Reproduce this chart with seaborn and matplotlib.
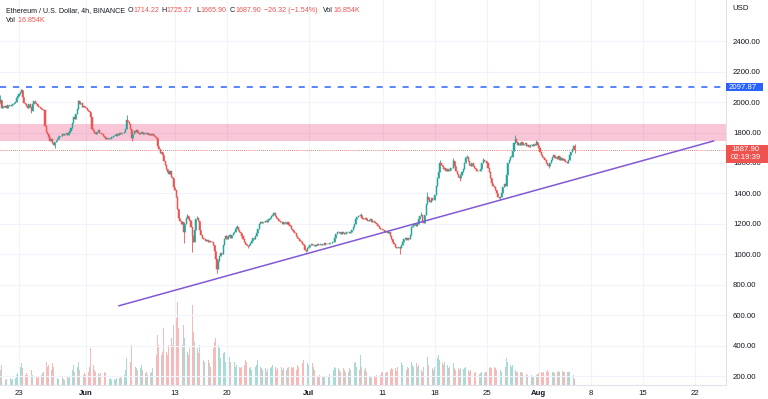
import numpy as np
import pandas as pd
import matplotlib
matplotlib.use("Agg")
import matplotlib.pyplot as plt
import matplotlib.dates as mdates
from matplotlib.patches import Rectangle
from matplotlib.transforms import blended_transform_factory
import seaborn as sns

# 4h closes, one row per day (first row starts 20 May 12:00)
closes = [
    [2010, 1960, 1975],
    [1970, 1975, 1962, 1980, 1972, 1976],
    [1980, 1986, 1992, 2002, 2028, 2040],
    [2052, 2066, 2078, 2035, 1996, 1985],
    [1976, 1962, 1990, 1968, 1942, 1985],
    [2005, 1994, 1984, 1975, 1966, 1960],
    [1955, 1946, 1950, 1840, 1802, 1790],
    [1770, 1742, 1760, 1732, 1718, 1740],
    [1746, 1760, 1770, 1776, 1780, 1790],
    [1784, 1790, 1796, 1782, 1800, 1810],
    [1830, 1862, 1900, 1890, 1922, 1952],
    [2008, 1985, 1995, 1964, 1976, 1968],
    [1960, 1950, 1940, 1934, 1900, 1822],   # Jun 1
    [1810, 1800, 1790, 1806, 1815, 1800],
    [1795, 1788, 1780, 1768, 1758, 1765],
    [1755, 1760, 1766, 1770, 1775, 1780],
    [1780, 1790, 1785, 1795, 1790, 1800],
    [1795, 1806, 1820, 1882, 1868, 1855],
    [1820, 1762, 1790, 1812, 1805, 1815],
    [1800, 1790, 1796, 1805, 1790, 1795],
    [1800, 1790, 1795, 1785, 1790, 1786],
    [1790, 1780, 1770, 1764, 1710, 1690],
    [1665, 1672, 1655, 1610, 1590, 1560],
    [1540, 1530, 1546, 1510, 1500, 1440],
    [1420, 1380, 1300, 1240, 1218, 1200],
    [1212, 1150, 1200, 1240, 1252, 1230],
    [1220, 1180, 1120, 1080, 1160, 1232],
    [1240, 1220, 1160, 1130, 1110, 1100],
    [1100, 1090, 1096, 1085, 1090, 1080],
    [1085, 1060, 1020, 970, 905, 960],
    [990, 1010, 1000, 1060, 1100, 1120],
    [1100, 1120, 1130, 1110, 1125, 1140],
    [1150, 1170, 1182, 1160, 1150, 1140],
    [1120, 1100, 1080, 1070, 1060, 1055],
    [1065, 1075, 1090, 1110, 1100, 1120],
    [1140, 1170, 1200, 1210, 1205, 1215],
    [1210, 1220, 1215, 1225, 1230, 1236],
    [1250, 1262, 1270, 1255, 1240, 1230],
    [1220, 1215, 1210, 1200, 1215, 1205],
    [1200, 1210, 1195, 1190, 1170, 1160],
    [1150, 1140, 1120, 1110, 1100, 1090],
    [1085, 1070, 1060, 1030, 1020, 1040],
    [1050, 1065, 1070, 1060, 1065, 1055],   # Jul 1
    [1060, 1070, 1065, 1060, 1068, 1062],
    [1065, 1075, 1070, 1068, 1072, 1078],
    [1075, 1080, 1085, 1110, 1135, 1145],
    [1150, 1140, 1135, 1145, 1140, 1135],
    [1140, 1145, 1150, 1140, 1148, 1160],
    [1180, 1200, 1230, 1245, 1255, 1250],
    [1262, 1240, 1235, 1230, 1240, 1225],
    [1220, 1225, 1230, 1215, 1220, 1210],
    [1205, 1200, 1190, 1175, 1170, 1165],
    [1160, 1150, 1155, 1145, 1140, 1150],
    [1120, 1100, 1080, 1070, 1050, 1045],
    [1040, 1050, 1045, 1060, 1080, 1100],
    [1105, 1095, 1110, 1100, 1130, 1180],
    [1190, 1195, 1200, 1190, 1200, 1230],
    [1255, 1260, 1210, 1205, 1260, 1330],
    [1380, 1360, 1345, 1370, 1355, 1360],
    [1390, 1450, 1500, 1540, 1600, 1590],
    [1580, 1560, 1570, 1550, 1560, 1545],
    [1555, 1565, 1570, 1610, 1580, 1550],
    [1530, 1510, 1500, 1520, 1540, 1560],
    [1600, 1630, 1640, 1610, 1590, 1580],
    [1600, 1580, 1570, 1560, 1545, 1550],
    [1545, 1560, 1600, 1620, 1610, 1615],
    [1600, 1570, 1540, 1500, 1470, 1450],
    [1440, 1420, 1400, 1380, 1370, 1380],
    [1400, 1440, 1460, 1450, 1520, 1600],
    [1620, 1640, 1640, 1680, 1730, 1760],
    [1740, 1720, 1730, 1715, 1735, 1720],
    [1725, 1730, 1710, 1720, 1705, 1715],
    [1720, 1710, 1725, 1715, 1740, 1720],
    [1700, 1670, 1650, 1640, 1630, 1620],   # Aug 1
    [1600, 1590, 1580, 1600, 1620, 1640],
    [1650, 1630, 1640, 1625, 1645, 1620],
    [1630, 1620, 1625, 1615, 1605, 1598],
    [1620, 1650, 1670, 1695, 1714.22, 1687.90],
]

# volume per 4h candle, thousands of ETH
volumes = [
    [45, 60, 35],
    [20, 15, 18, 12, 15, 20],
    [15, 18, 22, 20, 30, 35],
    [40, 55, 65, 50, 45, 30],
    [35, 30, 40, 35, 45, 30],
    [25, 30, 28, 22, 25, 20],
    [30, 35, 40, 80, 70, 55],
    [60, 50, 45, 65, 55, 40],
    [25, 20, 18, 22, 20, 25],
    [18, 15, 20, 25, 22, 28],
    [35, 45, 60, 40, 50, 55],
    [70, 45, 40, 35, 30, 35],
    [30, 35, 40, 55, 110, 90],
    [60, 45, 40, 50, 35, 30],
    [35, 30, 45, 40, 35, 30],
    [20, 18, 22, 15, 20, 18],
    [15, 20, 18, 22, 25, 20],
    [25, 30, 45, 80, 60, 45],
    [70, 120, 80, 60, 55, 50],
    [45, 40, 50, 60, 45, 40],
    [35, 40, 30, 45, 35, 40],
    [50, 55, 60, 90, 150, 120],
    [110, 90, 100, 170, 130, 100],
    [90, 120, 110, 140, 120, 180],
    [280, 200, 250, 170, 150, 130],
    [120, 180, 140, 110, 100, 90],
    [110, 150, 240, 160, 130, 100],
    [110, 95, 120, 100, 85, 75],
    [70, 60, 55, 75, 65, 55],
    [80, 110, 130, 140, 135, 120],
    [110, 80, 75, 95, 100, 70],
    [75, 60, 85, 70, 60, 55],
    [70, 55, 60, 75, 55, 50],
    [55, 70, 60, 75, 70, 55],
    [50, 55, 45, 65, 50, 55],
    [60, 75, 80, 55, 50, 45],
    [45, 50, 40, 48, 45, 50],
    [55, 60, 50, 55, 45, 50],
    [45, 50, 55, 45, 50, 40],
    [45, 50, 55, 60, 55, 50],
    [55, 50, 45, 60, 55, 50],
    [60, 65, 75, 150, 90, 65],
    [60, 55, 50, 65, 55, 45],
    [30, 28, 25, 30, 28, 25],
    [25, 28, 30, 25, 28, 32],
    [35, 40, 45, 55, 50, 45],
    [50, 45, 40, 55, 50, 45],
    [40, 45, 38, 50, 45, 40],
    [50, 65, 70, 55, 50, 45],
    [90, 55, 50, 45, 50, 40],
    [30, 25, 28, 22, 25, 28],
    [25, 30, 28, 35, 30, 38],
    [38, 45, 35, 40, 38, 45],
    [45, 50, 48, 45, 50, 42],
    [55, 60, 115, 70, 60, 55],
    [50, 45, 55, 50, 60, 70],
    [60, 55, 50, 65, 55, 60],
    [50, 45, 40, 55, 50, 70],
    [85, 60, 50, 45, 50, 45],
    [55, 70, 80, 90, 75, 65],
    [65, 60, 70, 55, 60, 50],
    [55, 50, 60, 65, 50, 45],
    [55, 50, 45, 50, 55, 48],
    [50, 55, 60, 45, 40, 45],
    [40, 38, 35, 40, 38, 35],
    [32, 35, 40, 38, 35, 40],
    [40, 45, 50, 55, 50, 45],
    [55, 50, 45, 48, 40, 45],
    [40, 50, 45, 55, 80, 70],
    [65, 60, 55, 60, 50, 45],
    [40, 38, 35, 40, 38, 35],
    [30, 28, 32, 30, 28, 32],
    [30, 28, 25, 28, 30, 32],
    [35, 40, 38, 35, 40, 38],
    [40, 45, 38, 40, 42, 38],
    [38, 35, 40, 38, 42, 40],
    [38, 42, 40, 38, 35, 40],
    [40, 38, 36, 34, 30, 17],
]

first_open = 1995
high_wicks = {
    "2022-05-20 12:00": 2045, "2022-05-23 08:00": 2085, "2022-05-31 00:00": 2015,
    "2022-06-06 12:00": 1915, "2022-06-14 16:00": 1268, "2022-06-16 00:00": 1252,
    "2022-06-19 20:00": 1130, "2022-06-21 08:00": 1195, "2022-06-26 08:00": 1280,
    "2022-07-08 00:00": 1275, "2022-07-16 04:00": 1280, "2022-07-17 00:00": 1412,
    "2022-07-18 16:00": 1620, "2022-07-20 12:00": 1630, "2022-07-22 08:00": 1655,
    "2022-07-24 12:00": 1632, "2022-07-28 20:00": 1785, "2022-07-31 16:00": 1752,
    "2022-08-05 20:00": 1725.27,
}
low_wicks = {
    "2022-05-24 16:00": 1925, "2022-05-27 20:00": 1700, "2022-06-07 04:00": 1745,
    "2022-06-12 20:00": 1420, "2022-06-14 04:00": 1075, "2022-06-15 08:00": 1017,
    "2022-06-18 16:00": 880, "2022-06-22 20:00": 1040, "2022-06-30 16:00": 1015,
    "2022-07-13 08:00": 1006, "2022-07-21 08:00": 1480, "2022-07-26 20:00": 1358,
    "2022-08-02 08:00": 1570, "2022-08-05 20:00": 1665.90,
}

level_price = 2097.87
zone_low, zone_high = 1747, 1856
trend_dates = ["2022-06-05 10:00", "2022-08-24 14:00"]
trend_prices = [663, 1745]
countdown = "02:19:39"
vol_text = "16.854K"

tick_dates = ["2022-05-23", "2022-06-01", "2022-06-13", "2022-06-20", "2022-07-01", "2022-07-11",
              "2022-07-18", "2022-07-25", "2022-08-01", "2022-08-08", "2022-08-15", "2022-08-22"]
tick_labels = ["23", "Jun", "13", "20", "Jul", "11", "18", "25", "Aug", "8", "15", "22"]
price_ticks = list(range(200, 2401, 200))

RED = "#ef5350"
GREEN = "#26a69a"
DARK = "#131722"
GRID = "#f0f3fa"

# build candle table
close = [v for row in closes for v in row]
vol = [v for row in volumes for v in row]
times = pd.date_range("2022-05-20 12:00", periods=len(close), freq="4h")
df = pd.DataFrame({"time": times, "close": close, "volume": vol})
df["open"] = df["close"].shift(1).fillna(first_open)
df["high"] = df[["open", "close"]].max(axis=1)
df["low"] = df[["open", "close"]].min(axis=1)
for t, v in high_wicks.items():
    df.loc[df["time"] == pd.Timestamp(t), "high"] = v
for t, v in low_wicks.items():
    df.loc[df["time"] == pd.Timestamp(t), "low"] = v
df["up"] = df["close"] >= df["open"]
df["x"] = mdates.date2num(df["time"].values)
step = 1 / 6

sns.set_theme(style="white")
plt.rcParams["font.family"] = ["Liberation Sans", "DejaVu Sans"]
FS = 5.6
FS_T = 5.1

fig = plt.figure(figsize=(7.68, 3.99), dpi=100)
rect = [0, 14 / 399, 726 / 768, 385 / 399]
ax_vol = fig.add_axes(rect)
ax = fig.add_axes(rect, sharex=ax_vol)
ax.patch.set_visible(False)

# volume
vcols = np.where(df["up"], GREEN, RED)
ax_vol.bar(df["x"], df["volume"], width=step * 0.55, color=vcols, alpha=0.4, linewidth=0)
ax_vol.set_ylim(0, 1155)
ax_vol.set_yticks([])
ax_vol.tick_params(axis="x", length=0, labelbottom=False)
for s in ax_vol.spines.values():
    s.set_visible(False)

# zone + levels
ax.axhspan(zone_low, zone_high, color="#e91e63", alpha=0.25, lw=0, zorder=1)
ax.axhline(level_price, color="#2962ff", lw=1.1, ls=(0, (4, 4.5)), zorder=2)
ax.axhline(df["close"].iloc[-1], color=RED, lw=0.6, ls=(0, (1, 1.5)), zorder=2)

# candles
ccols = np.where(df["up"], GREEN, RED)
ax.vlines(df["x"], df["low"], df["high"], colors=ccols, lw=0.6, zorder=3)
body_lo = df[["open", "close"]].min(axis=1)
body_h = np.maximum((df["close"] - df["open"]).abs(), 3)
ax.bar(df["x"], body_h, bottom=body_lo, width=step * 0.85, color=ccols,
       edgecolor=ccols, linewidth=0.35, zorder=4)

# trend line
sns.lineplot(x=mdates.date2num(pd.to_datetime(trend_dates).values), y=trend_prices,
             ax=ax, color="#8159d6", lw=1.1, zorder=5)

ax.set_xlim(mdates.date2num(np.datetime64("2022-05-20T10:34")),
            mdates.date2num(np.datetime64("2022-08-26T05:17")))
ax.set_ylim(144, 2669)

ax.set_xticks(mdates.date2num(pd.to_datetime(tick_dates).values))
ax.set_xticklabels(tick_labels)
for lbl in ax.get_xticklabels():
    lbl.set_fontsize(FS)
    lbl.set_color(DARK)
    if lbl.get_text() in ("Jun", "Jul", "Aug"):
        lbl.set_fontweight("bold")
ax.yaxis.tick_right()
ax.set_yticks(price_ticks)
ax.set_yticklabels([f"{p:.2f}" for p in price_ticks])
ax.tick_params(axis="y", length=0, pad=5, labelsize=FS, labelcolor=DARK)
ax.tick_params(axis="x", length=0, pad=3.3)
ax.grid(True, color=GRID, lw=0.8)
ax.set_axisbelow(True)
for side in ("top", "left"):
    ax.spines[side].set_visible(False)
for side in ("right", "bottom"):
    ax.spines[side].set_color("#e0e3eb")
    ax.spines[side].set_linewidth(0.8)

# right side price labels
tr = blended_transform_factory(fig.transFigure, ax.transData)
x0 = 726 / 768
fig.add_artist(Rectangle((x0, level_price - 28), 37 / 768, 56, transform=tr,
                         color="#2962ff", lw=0, zorder=5))
fig.text(x0 + 3 / 768, level_price, f"{level_price:.2f}", transform=tr, color="white",
         fontsize=FS, va="center", ha="left", zorder=6)
last = df["close"].iloc[-1]
fig.add_artist(Rectangle((x0, 1600), 42 / 768, 119, transform=tr,
                         color=RED, lw=0, zorder=5))
fig.text(x0 + 5 / 768, last, f"{last:.2f}", transform=tr, color="white",
         fontsize=FS, va="center", ha="left", zorder=6)
fig.text(x0 + 5 / 768, 1633, countdown, transform=tr, color="white",
         fontsize=FS, va="center", ha="left", zorder=6)
fig.text(732 / 768, 1 - 8 / 399, "USD", color=DARK, fontsize=FS, va="center", ha="left")

# legend rows at top: label in dark, value in red right after it
row = df.iloc[-1]
chg = row["close"] - row["open"]
renderer = fig.canvas.get_renderer()


def label_value(px, y, label, value):
    t = fig.text(px / 768, y, label, color=DARK, fontsize=FS_T, va="center", ha="left")
    x_end = t.get_window_extent(renderer).x1
    fig.text((x_end + 0.6) / 768, y, value, color=RED, fontsize=FS_T, va="center", ha="left")


y1, y2 = 1 - 11 / 399, 1 - 21 / 399
fig.text(6 / 768, y1, "Ethereum / U.S. Dollar, 4h, BINANCE", color=DARK, fontsize=FS_T,
         va="center", ha="left")
label_value(127.3, y1, "O", f"{row['open']:.2f}")
label_value(161, y1, "H", f"{row['high']:.2f}")
label_value(196, y1, "L", f"{row['low']:.2f}")
label_value(230, y1, "C", f"{row['close']:.2f}")
fig.text(264.3 / 768, y1, f"\u2212{abs(chg):.2f} (\u2212{abs(chg) / row['open'] * 100:.2f}%)",
         color=RED, fontsize=FS_T, va="center", ha="left")
label_value(323.3, y1, "Vol", vol_text)
label_value(6, y2, "Vol", " " + vol_text)

fig.savefig("out.png", dpi=100)
